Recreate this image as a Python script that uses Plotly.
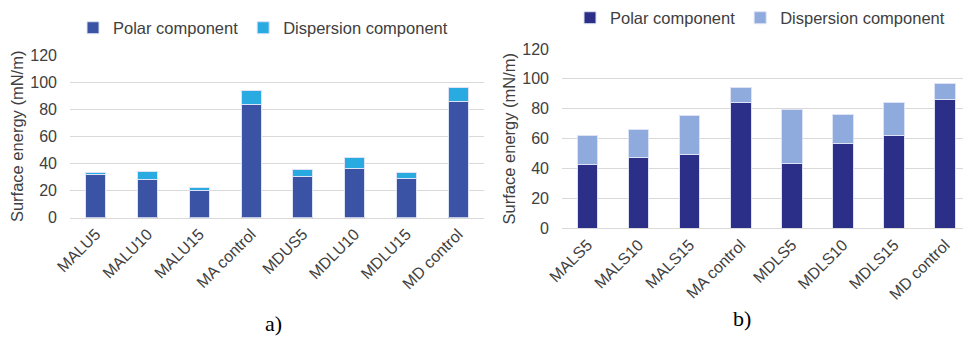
import plotly.graph_objects as go

# Surface energy components, panel a)
cats_a = ["MALU5", "MALU10", "MALU15", "MA control", "MDUS5", "MDLU10", "MDLU15", "MD control"]
polar_a = [32.0, 28.3, 19.7, 83.6, 30.2, 36.6, 28.8, 85.8]
disp_a = [1.2, 5.7, 2.9, 10.4, 5.7, 7.9, 4.9, 10.3]

# Surface energy components, panel b)
cats_b = ["MALS5", "MALS10", "MALS15", "MA control", "MDLS5", "MDLS10", "MDLS15", "MD control"]
polar_b = [43.0, 47.1, 49.5, 84.5, 43.7, 56.9, 61.8, 86.5]
disp_b = [19.2, 18.9, 26.1, 9.6, 36.1, 19.6, 22.5, 10.3]

y_ticks = [0, 20, 40, 60, 80, 100, 120]

W, H = 963, 337
FONT = "Liberation Sans, Arial, sans-serif"
TXT = "#404040"
GRID = "#d9d9d9"
EDGE = dict(color="#dde2f4", width=1)

fig = go.Figure()

fig.add_bar(x=cats_a, y=polar_a, name="Polar component", marker=dict(color="#3A53A4", line=EDGE),
            xaxis="x", yaxis="y", legend="legend", width=0.39)
fig.add_bar(x=cats_a, y=disp_a, name="Dispersion component", marker=dict(color="#29ABE2", line=EDGE),
            xaxis="x", yaxis="y", legend="legend", width=0.39)
fig.add_bar(x=cats_b, y=polar_b, name="Polar component", marker=dict(color="#2B2F87", line=EDGE),
            xaxis="x2", yaxis="y2", legend="legend2", width=0.40)
fig.add_bar(x=cats_b, y=disp_b, name="Dispersion component", marker=dict(color="#8FAADC", line=EDGE),
            xaxis="x2", yaxis="y2", legend="legend2", width=0.40)


def px_x(p):
    return p / W


def px_y(p):
    return (H - p) / H


xcommon = dict(type="category", tickangle=-45, showgrid=False, showline=True, linecolor=GRID,
               linewidth=1, ticks="", tickfont=dict(family=FONT, size=16, color=TXT))
ycommon = dict(range=[0, 120], tickvals=y_ticks, showgrid=True, gridcolor=GRID, gridwidth=1,
               zeroline=False, showline=False, ticks="", ticklabelstandoff=12,
               tickfont=dict(family=FONT, size=16, color=TXT),
               title=dict(text="Surface energy (mN/m)", font=dict(family=FONT, size=16.5, color=TXT),
                          standoff=2))

legend_common = dict(orientation="h", xanchor="left", yanchor="middle", bgcolor="rgba(0,0,0,0)",
                     font=dict(family=FONT, size=16.5, color=TXT), traceorder="normal",
                     itemwidth=30)

fig.update_layout(
    width=W, height=H, margin=dict(l=0, r=0, t=0, b=0, autoexpand=False),
    paper_bgcolor="white", plot_bgcolor="white", barmode="stack",
    xaxis=dict(domain=[px_x(70), px_x(484)], range=[-0.5, 7.5], anchor="y", **xcommon),
    yaxis=dict(domain=[px_y(217.7), px_y(55)], anchor="x", **ycommon),
    xaxis2=dict(domain=[px_x(562), 1.0], range=[-0.5, 7.35], anchor="y2", **xcommon),
    yaxis2=dict(domain=[px_y(228.3), px_y(49)], anchor="x2", **ycommon),
    legend=dict(x=px_x(73), y=px_y(28), **legend_common),
    legend2=dict(x=px_x(570), y=px_y(18), **legend_common),
    annotations=[
        dict(text="a)", x=px_x(273), y=px_y(323), xref="paper", yref="paper", showarrow=False,
             xanchor="center", yanchor="middle",
             font=dict(family="Liberation Serif, Times New Roman, serif", size=22, color="#000")),
        dict(text="b)", x=px_x(742), y=px_y(318), xref="paper", yref="paper", showarrow=False,
             xanchor="center", yanchor="middle",
             font=dict(family="Liberation Serif, Times New Roman, serif", size=22, color="#000")),
    ],
)

fig.write_html("out.html")
